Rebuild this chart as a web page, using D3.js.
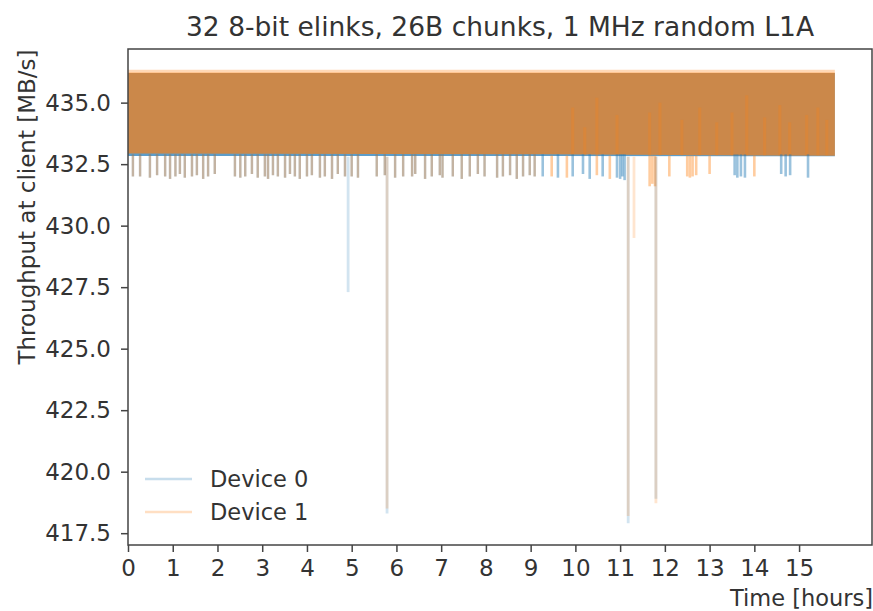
<html>
  <meta charset="utf-8" />
  <script src="https://d3js.org/d3.v7.min.js"></script>
  <style>
    body { margin: 0; background: #fff; }
    text { font-family: "DejaVu Sans", sans-serif; fill: #333; }
  </style>
  <body>
    <svg width="873" height="611" id="chart"></svg>

    <script>
      // --- data (time in hours, throughput in MB/s) ---
      const seriesNames = ["Device 0", "Device 1"];
      const seriesColors = ["#1f77b4", "#ff7f0e"];

      const xTicks = [0, 1, 2, 3, 4, 5, 6, 7, 8, 9, 10, 11, 12, 13, 14, 15];
      const yTicks = [417.5, 420.0, 422.5, 425.0, 427.5, 430.0, 432.5, 435.0];

      // dense band (min/max envelope) of each device
      const bandTime = [0, 9.3, 15.8];
      const dev0Upper = [436.2, 436.2, 436.2];
      const dev0Lower = [432.83, 432.83, 432.82];
      const dev1Upper = [436.22, 436.22, 436.22];
      const dev1Lower = [432.93, 432.9, 432.84];
      // sparse highest readings of device 1
      const dev1Peak = [436.34, 436.34, 436.34];

      // short drops just below the band, seen on both devices
      const sharedDipTime = [
        0.11, 0.27, 0.49, 0.65, 0.83, 0.94, 1.06, 1.16, 1.27, 1.43, 1.54, 1.68,
        1.79, 1.94, 2.39, 2.51, 2.62, 2.77, 2.9, 3.06, 3.13, 3.24, 3.35, 3.51,
        3.62, 3.73, 3.84, 4.0, 4.11, 4.29, 4.4, 4.56, 4.69, 4.85, 5.0, 5.14,
        5.56, 5.74, 5.97, 6.15, 6.35, 6.42, 6.64, 6.79, 6.97, 7.03, 7.26, 7.46,
        7.64, 7.82, 7.97, 8.25, 8.38, 8.54, 8.69, 8.83, 8.98, 9.09,
      ];
      const sharedDipValue = [
        432.0, 432.0, 431.95, 432.05, 432.0, 431.9, 432.0, 432.1, 431.95, 432.0,
        432.05, 431.9, 432.0, 432.1, 432.0, 431.95, 432.0, 432.1, 431.95, 432.0,
        431.9, 432.05, 432.0, 431.95, 432.1, 432.0, 431.9, 432.0, 432.05, 431.95,
        432.0, 431.9, 432.1, 432.0, 432.0, 431.95, 432.0, 432.05, 431.95, 432.0,
        432.0, 432.1, 431.9, 432.0, 432.05, 431.95, 432.0, 431.9, 432.0, 432.1,
        432.0, 431.95, 432.0, 432.05, 431.9, 432.0, 432.05, 432.0,
      ];

      // drops of device 0 alone (right part)
      const dev0DipTime = [
        9.27, 9.61, 9.94, 10.17, 10.32, 10.61, 10.93, 11.0, 11.05, 11.1, 13.56,
        13.62, 13.7, 13.79, 14.6, 14.7, 14.8, 15.2,
      ];
      const dev0DipValue = [
        432.0, 431.95, 432.0, 432.1, 431.9, 432.0, 431.95, 431.9, 432.0, 431.85,
        432.05, 431.95, 432.0, 431.95, 432.1, 432.0, 432.05, 431.95,
      ];

      // drops of device 1 alone (right part)
      const dev1DipTime = [
        9.47, 9.81, 10.48, 10.77, 11.66, 11.72, 11.78, 12.1, 12.5, 12.56, 12.62,
        12.7, 13.0, 14.0,
      ];
      const dev1DipValue = [
        432.0, 431.95, 432.05, 431.9, 431.6, 431.7, 431.6, 432.0, 432.0, 431.95,
        432.0, 432.05, 432.1, 432.0,
      ];

      // lower readings of device 1 inside the band (right part, where device 0 is higher)
      const dev1LowTime = [
        9.94, 10.21, 10.48, 10.93, 11.66, 11.89, 12.38, 12.78, 13.16, 13.5, 13.83,
        14.23, 14.57, 14.79, 15.17, 15.42, 15.62,
      ];
      const dev1LowTop = [
        434.8, 434.0, 435.2, 434.5, 434.6, 435.0, 434.3, 434.8, 434.2, 434.6,
        435.3, 434.4, 434.9, 434.2, 434.5, 434.8, 434.3,
      ];

      // large single drops
      const dev0SpikeTime = [4.92, 5.79, 11.18, 11.8];
      const dev0SpikeValue = [427.3, 418.3, 417.9, 418.9];
      const dev1SpikeTime = [5.79, 11.18, 11.31, 11.8];
      const dev1SpikeValue = [418.5, 418.2, 429.5, 418.72];

      function drawChart() {
        const left = 128,
          top = 49,
          right = 872,
          bottom = 545;

        const svg = d3.select("#chart");

        const xScale = d3.scaleLinear().domain([0, 16.63]).range([left, right]);
        const yScale = d3
          .scaleLinear()
          .domain([417.02, 437.18])
          .range([bottom, top]);

        svg
          .append("clipPath")
          .attr("id", "plotclip")
          .append("rect")
          .attr("x", left)
          .attr("y", top)
          .attr("width", right - left)
          .attr("height", bottom - top);

        const plot = svg.append("g").attr("clip-path", "url(#plotclip)");

        const area = d3
          .area()
          .x((d) => xScale(d.t))
          .y0((d) => yScale(d.lo))
          .y1((d) => yScale(d.hi));

        function band(lower, upper, color, op) {
          const pts = bandTime.map((t, i) => ({ t: t, lo: lower[i], hi: upper[i] }));
          plot
            .append("path")
            .attr("d", area(pts))
            .attr("fill", color)
            .attr("fill-opacity", op);
        }

        band(dev1Upper, dev1Peak, seriesColors[1], 0.3);
        band(dev0Lower, dev0Upper, seriesColors[0], 0.72);
        band(dev1Lower, dev1Upper, seriesColors[1], 0.68);

        function drops(times, from, values, color, op, width) {
          plot
            .append("g")
            .selectAll("line")
            .data(times)
            .join("line")
            .attr("x1", (t) => xScale(t))
            .attr("x2", (t) => xScale(t))
            .attr("y1", yScale(from))
            .attr("y2", (t, i) => yScale(values[i]))
            .attr("stroke", color)
            .attr("stroke-opacity", op)
            .attr("stroke-width", width);
        }

        drops(dev1LowTime, 432.85, dev1LowTop, seriesColors[1], 0.25, 3);
        drops(sharedDipTime, 432.9, sharedDipValue, seriesColors[0], 0.38, 2.4);
        drops(sharedDipTime, 432.9, sharedDipValue, seriesColors[1], 0.3, 2.4);
        drops(dev0DipTime, 432.9, dev0DipValue, seriesColors[0], 0.45, 2.6);
        drops(dev1DipTime, 432.85, dev1DipValue, seriesColors[1], 0.4, 2.6);
        drops(dev0SpikeTime, 432.8, dev0SpikeValue, seriesColors[0], 0.2, 2.8);
        drops(dev1SpikeTime, 432.8, dev1SpikeValue, seriesColors[1], 0.2, 2.8);

        // axes
        const xAxis = svg
          .append("g")
          .attr("transform", `translate(0, ${bottom})`)
          .call(
            d3.axisBottom(xScale).tickValues(xTicks).tickSize(7).tickPadding(8)
          );
        const yAxis = svg
          .append("g")
          .attr("transform", `translate(${left}, 0)`)
          .call(
            d3
              .axisLeft(yScale)
              .tickValues(yTicks)
              .tickFormat(d3.format(".1f"))
              .tickSize(7)
              .tickPadding(10)
          );
        [xAxis, yAxis].forEach((a) => {
          a.select(".domain").remove();
          a.selectAll("line").attr("stroke", "#444").attr("stroke-width", 1.5);
          a.selectAll("text")
            .attr("font-size", 23)
            .attr("font-family", "DejaVu Sans")
            .attr("fill", "#333");
        });

        svg
          .append("rect")
          .attr("x", left)
          .attr("y", top)
          .attr("width", right - left)
          .attr("height", bottom - top)
          .attr("fill", "none")
          .attr("stroke", "#444")
          .attr("stroke-width", 1.5);

        // legend
        const legend = svg.append("g").attr("transform", "translate(145, 479)");
        seriesNames.forEach((name, i) => {
          legend
            .append("line")
            .attr("x1", 0)
            .attr("x2", 47)
            .attr("y1", i * 33)
            .attr("y2", i * 33)
            .attr("stroke", seriesColors[i])
            .attr("stroke-opacity", 0.25)
            .attr("stroke-width", 2.5);
          legend
            .append("text")
            .attr("x", 65)
            .attr("y", i * 33)
            .attr("dy", "0.35em")
            .attr("font-size", 22.5)
            .text(name);
        });

        // labels
        svg
          .append("text")
          .attr("x", (left + right) / 2)
          .attr("y", 36)
          .attr("text-anchor", "middle")
          .attr("font-size", 26.5)
          .text("32 8-bit elinks, 26B chunks, 1 MHz random L1A");

        svg
          .append("text")
          .attr("transform", "translate(35, 207) rotate(-90)")
          .attr("text-anchor", "middle")
          .attr("font-size", 23)
          .text("Throughput at client [MB/s]");

        svg
          .append("text")
          .attr("x", 873)
          .attr("y", 606)
          .attr("text-anchor", "end")
          .attr("font-size", 22.5)
          .text("Time [hours]");
      }

      drawChart();
    </script>
  </body>
</html>
